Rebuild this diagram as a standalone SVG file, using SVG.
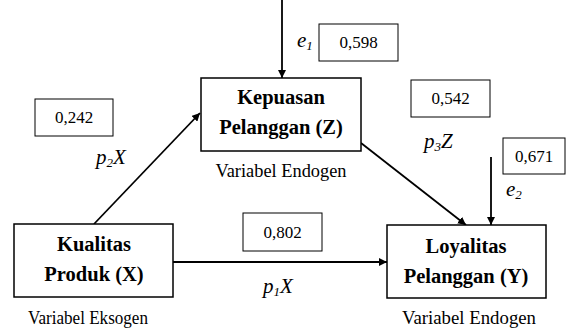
<svg xmlns="http://www.w3.org/2000/svg" width="567" height="329" viewBox="0 0 567 329">
<style>
.box{fill:#fff;stroke:#000;stroke-width:1.5}
.vbox{fill:#fff;stroke:#000;stroke-width:1}
text{font-family:'Liberation Serif','Times New Roman',serif;fill:#000}
.t{font-weight:bold;font-size:20.5px;text-anchor:middle}
.n{font-size:17px;text-anchor:middle}
.i{font-style:italic;font-size:21px}
.s{font-size:13px}
.v{font-size:18px;text-anchor:middle}
.ln{stroke:#000;stroke-width:1.8;fill:none;marker-end:url(#ah)}
</style>
<defs>
<marker id="ah" viewBox="0 0 10 10" refX="10" refY="5" markerWidth="4.5" markerHeight="4.5" orient="auto" markerUnits="strokeWidth">
<path d="M0,0 L10,5 L0,10 z" fill="#000"/>
</marker>
</defs>
<g id="connectors">
<line class="ln" x1="282" y1="0" x2="282" y2="78"/>
<line class="ln" x1="94" y1="224" x2="200" y2="113"/>
<line class="ln" x1="361" y1="143" x2="466" y2="225"/>
<line class="ln" x1="491" y1="157" x2="491" y2="225"/>
<line class="ln" x1="173" y1="262" x2="387" y2="262"/>
</g>
<g id="node-z">
<rect class="box" x="201" y="78" width="160" height="73"/>
<text class="t" x="281" y="104">Kepuasan</text>
<text class="t" x="281" y="134">Pelanggan (Z)</text>
<text class="v" x="281" y="177" textLength="131" lengthAdjust="spacingAndGlyphs">Variabel Endogen</text>
</g>
<g id="node-x">
<rect class="box" x="14" y="224" width="159" height="73"/>
<text class="t" x="94" y="251">Kualitas</text>
<text class="t" x="94" y="281">Produk (X)</text>
<text class="v" x="88" y="324" textLength="120" lengthAdjust="spacingAndGlyphs">Variabel Eksogen</text>
</g>
<g id="node-y">
<rect class="box" x="387" y="225" width="159" height="73"/>
<text class="t" x="466" y="253">Loyalitas</text>
<text class="t" x="466" y="283">Pelanggan (Y)</text>
<text class="v" x="469" y="324" textLength="134" lengthAdjust="spacingAndGlyphs">Variabel Endogen</text>
</g>
<g id="values">
<rect class="vbox" x="319" y="24" width="79" height="37"/>
<text class="n" x="358.5" y="48">0,598</text>
<rect class="vbox" x="35" y="99" width="78" height="37"/>
<text class="n" x="74" y="123">0,242</text>
<rect class="vbox" x="411" y="80" width="79" height="37"/>
<text class="n" x="450.5" y="104">0,542</text>
<rect class="vbox" x="503" y="138" width="62" height="36"/>
<text class="n" x="534" y="162">0,671</text>
<rect class="vbox" x="243" y="213" width="79" height="38"/>
<text class="n" x="282.5" y="238">0,802</text>
</g>
<g id="labels">
<text class="i" x="297" y="47">e<tspan class="s" dy="3">1</tspan></text>
<text class="i" x="96" y="164">p<tspan class="s" dy="3">2</tspan><tspan dy="-3">X</tspan></text>
<text class="i" x="424" y="148">p<tspan class="s" dy="3">3</tspan><tspan dy="-3">Z</tspan></text>
<text class="i" x="506" y="196">e<tspan class="s" dy="3">2</tspan></text>
<text class="i" x="263" y="293">p<tspan class="s" dy="3">1</tspan><tspan dy="-3">X</tspan></text>
</g>
</svg>
